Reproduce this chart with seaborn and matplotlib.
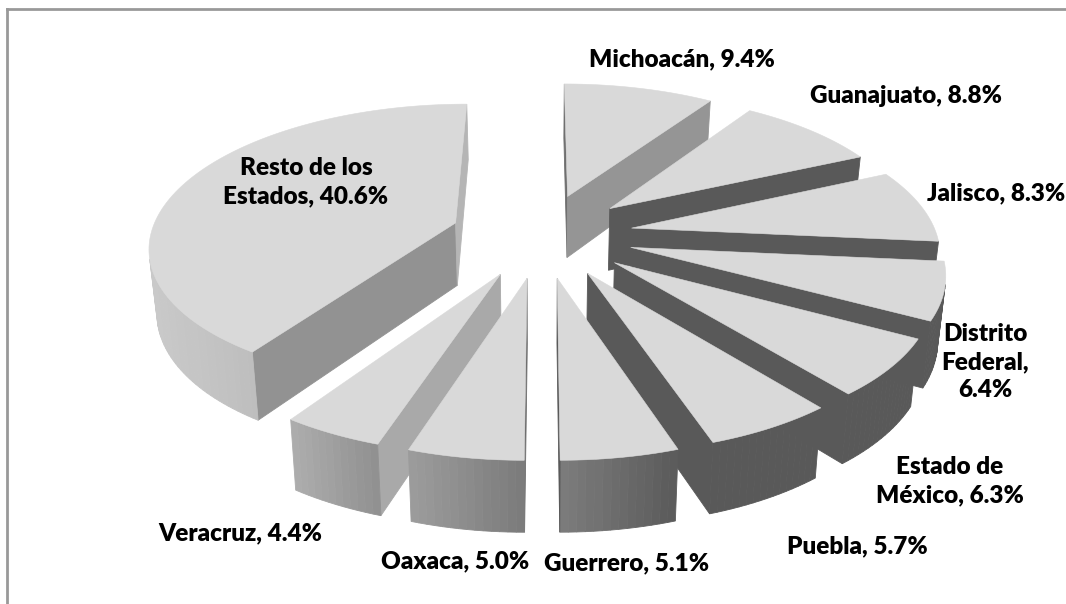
import numpy as np
import matplotlib
matplotlib.use("Agg")
import matplotlib.pyplot as plt
import seaborn as sns

# data, clockwise from the back of the pie
estados = ['Michoacán', 'Guanajuato', 'Jalisco', 'Distrito Federal', 'Estado de México',
           'Puebla', 'Guerrero', 'Oaxaca', 'Veracruz', 'Resto de los Estados']
porcentajes = [9.4, 8.8, 8.3, 6.4, 6.3, 5.7, 5.1, 5.0, 4.4, 40.6]
etiquetas = ['Michoacán, 9.4%', 'Guanajuato, 8.8%', 'Jalisco, 8.3%', 'Distrito\nFederal,\n6.4%',
             'Estado de\nMéxico, 6.3%', 'Puebla, 5.7%', 'Guerrero, 5.1%', 'Oaxaca, 5.0%',
             'Veracruz, 4.4%', 'Resto de los\nEstados, 40.6%']
etiqueta_x = [682, 906, 996, 985, 950, 857, 627, 455, 240, 306]
etiqueta_y = [59, 96, 193, 362, 481, 546, 563, 561, 533, 182]

# arc side gradient (left to right on screen), and the two cut faces
lado_izq = ['#8a8a8a', '#595959', '#595959', '#595959', '#595959', '#595959', '#7c7c7c', '#9c9c9c', '#adadad', '#c9c9c9']
lado_der = ['#8a8a8a', '#595959', '#595959', '#595959', '#595959', '#595959', '#5a5a5a', '#7a7a7a', '#8f8f8f', '#a6a6a6']
corte_ini = ['#6f6f6f', '#595959', '#595959', '#595959', '#595959', '#595959', '#595959', '#6f6f6f', '#a9a9a9', '#929292']
corte_fin = ['#959595', '#595959', '#595959', '#595959', '#595959', '#595959', '#595959', '#888888', '#a9a9a9', '#b5b5b5']
TOPE = '#d9d9d9'

# fake 3D camera
CX, CY = 542, 235
RX, RY = 305, 140
PERSP = 0.15
EXPLODE = 0.3
GROSOR = 63
GROSOR_PEND = 6.9
ENCOGE = 0.98


def proyectar(u, v, abajo=False):
    w = 1 - PERSP * v
    x = RX * u / w
    y = CY + RY * v / w
    if abajo:
        x = x * ENCOGE
        y = y + GROSOR + GROSOR_PEND * v
    return CX + x, y


def area(xs, ys):
    return 0.5 * np.sum(xs * np.roll(ys, -1) - np.roll(xs, -1) * ys)


sns.set_theme(style="white")
plt.rcParams['font.family'] = ['Lato', 'DejaVu Sans']

fig = plt.figure(figsize=(10.66, 6.04), dpi=100)
ax = fig.add_axes([7 / 1066, 0, 1 - 7 / 1066, 1 - 9 / 604])
ax.set_xlim(7, 1066)
ax.set_ylim(604, 9)
ax.set_xticks([])
ax.set_yticks([])
sns.despine(ax=ax, top=False, right=True, bottom=True)
for lado in ['left', 'top']:
    ax.spines[lado].set_color('#999999')
    ax.spines[lado].set_linewidth(2)

fin = np.cumsum(porcentajes) / 100 * 2 * np.pi
ini = np.concatenate([[0], fin[:-1]])
medio = (ini + fin) / 2
orden = np.argsort(-np.cos(medio))

for i in orden:
    t = np.linspace(ini[i], fin[i], max(int(porcentajes[i] * 3), 12))
    ox, oy = EXPLODE * np.sin(medio[i]), -EXPLODE * np.cos(medio[i])
    u = np.concatenate([[ox], ox + np.sin(t)])
    v = np.concatenate([[oy], oy - np.cos(t)])
    xa, ya = proyectar(u, v)
    xb, yb = proyectar(u, v, abajo=True)
    signo = np.sign(area(xa, ya))
    n = len(xa)
    paleta = sns.blend_palette([lado_izq[i], lado_der[i]], 40)
    xmin, xmax = xa[1:].min(), xa[1:].max()

    for a in range(n):
        b = (a + 1) % n
        qx = [xa[a], xa[b], xb[b], xb[a]]
        qy = [ya[a], ya[b], yb[b], yb[a]]
        # a side is seen only when it winds against the top face
        if np.sign(area(np.array(qx), np.array(qy))) == signo:
            continue
        if a == 0:
            color = corte_ini[i]
        elif b == 0:
            color = corte_fin[i]
        else:
            pos = ((xa[a] + xa[b]) / 2 - xmin) / (xmax - xmin)
            color = paleta[int(np.clip(pos * 39, 0, 39))]
        ax.fill(qx, qy, color=color, lw=0.6)
    ax.fill(xa, ya, color=TOPE, lw=0.4)

for x, y, texto in zip(etiqueta_x, etiqueta_y, etiquetas):
    ax.text(x, y, texto, ha='center', va='center', fontsize=17.5, fontweight='heavy',
            color='black', linespacing=1.33, zorder=5)

fig.savefig('out.png', dpi=100)
